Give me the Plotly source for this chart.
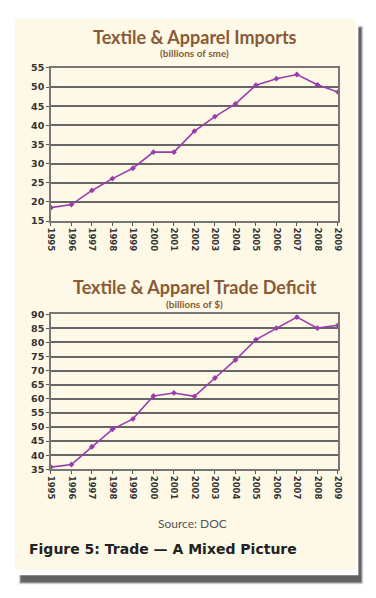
import plotly.graph_objects as go

# page has default 8px body margin; figure is drawn offset by it
OFF = 8
W, H = 376 - OFF, 598 - OFF

years = ["1995", "1996", "1997", "1998", "1999", "2000", "2001", "2002",
         "2003", "2004", "2005", "2006", "2007", "2008", "2009"]
imports = [18.5, 19.3, 23.0, 26.1, 28.8, 33.0, 33.0, 38.5, 42.3, 45.6,
           50.5, 52.2, 53.3, 50.6, 48.7]
deficit = [35.8, 36.7, 43.0, 49.2, 52.9, 61.0, 62.1, 60.9, 67.4, 73.8,
           81.0, 85.1, 89.0, 85.1, 86.1]
imports_ticks = [15, 20, 25, 30, 35, 40, 45, 50, 55]
deficit_ticks = [35, 40, 45, 50, 55, 60, 65, 70, 75, 80, 85, 90]

title1 = "Textile & Apparel Imports"
sub1 = "(billions of sme)"
title2 = "Textile & Apparel Trade Deficit"
sub2 = "(billions of $)"
source = "Source: DOC"
caption = "Figure 5: Trade \u2014 A Mixed Picture"


def px(x):
    return (x - OFF) / W


def py(y):
    return 1 - (y - OFF) / H


LINE = "#9a3daa"
BROWN = "#8a5a36"
GRID = "#666666"
PLOTBG = "#e6e6ea"
CREAM = "#fdf9e6"

fig = go.Figure()
fig.add_trace(go.Scatter(x=list(range(len(years))), y=imports, mode="lines+markers",
                         line=dict(color=LINE, width=1.6),
                         marker=dict(color=LINE, size=4.5, symbol="diamond"),
                         xaxis="x", yaxis="y", hoverinfo="skip"))
fig.add_trace(go.Scatter(x=list(range(len(years))), y=deficit, mode="lines+markers",
                         line=dict(color=LINE, width=1.6),
                         marker=dict(color=LINE, size=4.5, symbol="diamond"),
                         xaxis="x2", yaxis="y2", hoverinfo="skip"))

tickfont = dict(family="DejaVu Sans", size=9.5, color="#333333", weight="bold")
xcommon = dict(tickmode="array", tickvals=list(range(len(years))), ticktext=years,
               tickangle=90, range=[0, len(years) - 1], showgrid=False,
               ticks="outside", ticklen=3, tickcolor="#555", showline=True,
               linecolor="#777", linewidth=1.5, mirror=True, zeroline=False,
               tickfont=dict(family="DejaVu Sans", size=8.5, color="#333333",
                             weight="bold"))
ycommon = dict(showgrid=True, gridcolor=GRID, gridwidth=1.5, ticks="outside",
               ticklen=3, tickcolor="#555", showline=True, linecolor="#777",
               linewidth=1.5, mirror=True, zeroline=False, tickfont=tickfont)

fig.update_layout(
    width=W, height=H, margin=dict(l=0, r=0, t=0, b=0),
    paper_bgcolor="white", plot_bgcolor=PLOTBG, showlegend=False,
    xaxis=dict(domain=[px(47), px(342)], anchor="y", **xcommon),
    yaxis=dict(domain=[py(219), py(63)], anchor="x", range=[15, 55],
               tickvals=imports_ticks, **ycommon),
    xaxis2=dict(domain=[px(47), px(342)], anchor="y2", **xcommon),
    yaxis2=dict(domain=[py(472), py(314)], anchor="x2", range=[35, 90],
                tickvals=deficit_ticks, **ycommon),
)

shapes = []
# shadow
for i, (c, op) in enumerate([("#9a9a9a", 0.35), ("#6a6a6a", 0.55), ("#4a4a4a", 0.7)]):
    shapes.append(dict(type="rect", xref="paper", yref="paper", layer="below",
                       x0=px(14 + i), x1=px(368 - i), y0=py(589 - i), y1=py(20 + i),
                       fillcolor=c, opacity=op, line=dict(width=0)))
# white card
shapes.append(dict(type="rect", xref="paper", yref="paper", layer="below",
                   x0=px(8), x1=px(363), y0=py(580), y1=py(10),
                   fillcolor="white", line=dict(width=0)))
# cream panel
shapes.append(dict(type="rect", xref="paper", yref="paper", layer="below",
                   x0=px(10), x1=px(360), y0=py(574), y1=py(13),
                   fillcolor=CREAM, line=dict(width=0)))
fig.update_layout(shapes=shapes)

ann = []


def text(x, y, s, size, color, family, anchor="center"):
    ann.append(dict(x=px(x), y=py(y), xref="paper", yref="paper", text=s,
                    showarrow=False, xanchor=anchor, yanchor="middle",
                    font=dict(size=size, color=color, family=family)))


text(195, 31, "<b>" + title1 + "</b>", 18, BROWN, "Lato")
text(195, 48, "<b>" + sub1 + "</b>", 10, BROWN, "Lato")
text(195, 286, "<b>" + title2 + "</b>", 18, BROWN, "Lato")
text(195, 303, "<b>" + sub2 + "</b>", 10, BROWN, "Lato")
text(192, 527, source, 12, "#555555", "Lato")
text(22, 553, "<b>" + caption + "</b>", 14, "#222222", "DejaVu Sans", anchor="left")
fig.update_layout(annotations=ann)

fig.write_html("out.html")
